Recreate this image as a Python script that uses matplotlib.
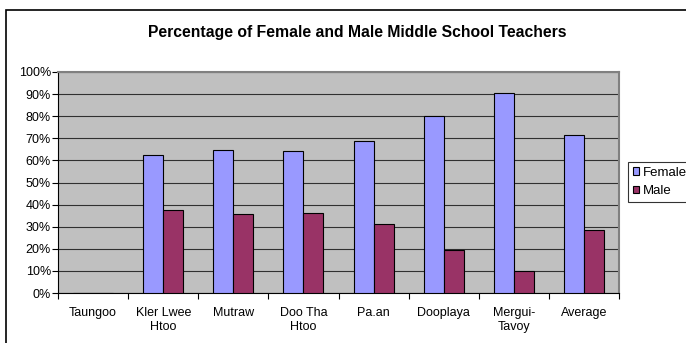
import matplotlib.pyplot as plt
import numpy as np
from matplotlib.patches import Rectangle

plt.rcParams['font.family'] = ['Liberation Sans', 'DejaVu Sans']

# Share of female and male middle school teachers by district
districts = ['Taungoo', 'Kler Lwee\nHtoo', 'Mutraw', 'Doo Tha\nHtoo', 'Pa.an',
             'Dooplaya', 'Mergui-\nTavoy', 'Average']
female = [0, 62.3, 64.5, 64.1, 68.9, 80.3, 90.4, 71.3]
male = [0, 37.7, 35.6, 36.1, 31.3, 19.5, 9.8, 28.6]

W, H = 686, 343
fig = plt.figure(figsize=(W / 100, H / 100), dpi=100)
fig.patch.set_facecolor('white')

# outer chart frame, running off the right and bottom edges
fig.patches.append(Rectangle((6 / W, -0.1), 1.1, 1 - 10 / H + 0.1,
                             transform=fig.transFigure, fill=False,
                             edgecolor='black', linewidth=1.2))

left, right, top, bottom = 58, 619, 72, 293
ax = fig.add_axes([left / W, 1 - bottom / H, (right - left) / W, (bottom - top) / H])
ax.set_facecolor('#C0C0C0')

x = np.arange(len(districts))
bw = 0.286
ax.bar(x - bw / 2, female, bw, color='#9999FF', edgecolor='black', linewidth=0.8,
       label='Female', zorder=3)
ax.bar(x + bw / 2, male, bw, color='#993366', edgecolor='black', linewidth=0.8,
       label='Male', zorder=3)

ax.set_xlim(-0.5, len(districts) - 0.5)
ax.set_ylim(0, 100)
ax.set_yticks(np.arange(0, 101, 10))
ax.set_yticklabels([f'{v}%' for v in range(0, 101, 10)], fontsize=9)
ax.grid(axis='y', color='#303030', linewidth=0.8, zorder=1)

# category labels sit between boundary tick marks
ax.set_xticks(np.arange(len(districts) + 1) - 0.5)
ax.set_xticklabels([])
ax.set_xticks(x, minor=True)
ax.set_xticklabels(districts, minor=True, fontsize=9, linespacing=1.2)
ax.tick_params(axis='x', which='minor', length=0, pad=10)
ax.tick_params(axis='x', which='major', length=4, width=0.8, direction='out')
ax.tick_params(axis='y', length=4, width=0.8, direction='out', pad=1)

for side in ['top', 'right']:
    ax.spines[side].set_color('#808080')
    ax.spines[side].set_linewidth(1.5)
for side in ['left', 'bottom']:
    ax.spines[side].set_color('black')
    ax.spines[side].set_linewidth(0.8)

fig.text(357 / W, 1 - 32 / H, 'Percentage of Female and Male Middle School Teachers',
         ha='center', va='center', fontsize=11.3, fontweight='bold')

leg = ax.legend(loc='upper left', bbox_to_anchor=(628 / W, 1 - 162 / H),
                bbox_transform=fig.transFigure, fontsize=9.5, frameon=True,
                fancybox=False, edgecolor='black', handlelength=0.5,
                handleheight=0.5, handletextpad=0.3, borderpad=0.35,
                labelspacing=0.5, borderaxespad=0)
leg.get_frame().set_linewidth(0.8)

fig.savefig('out.png', dpi=100)
